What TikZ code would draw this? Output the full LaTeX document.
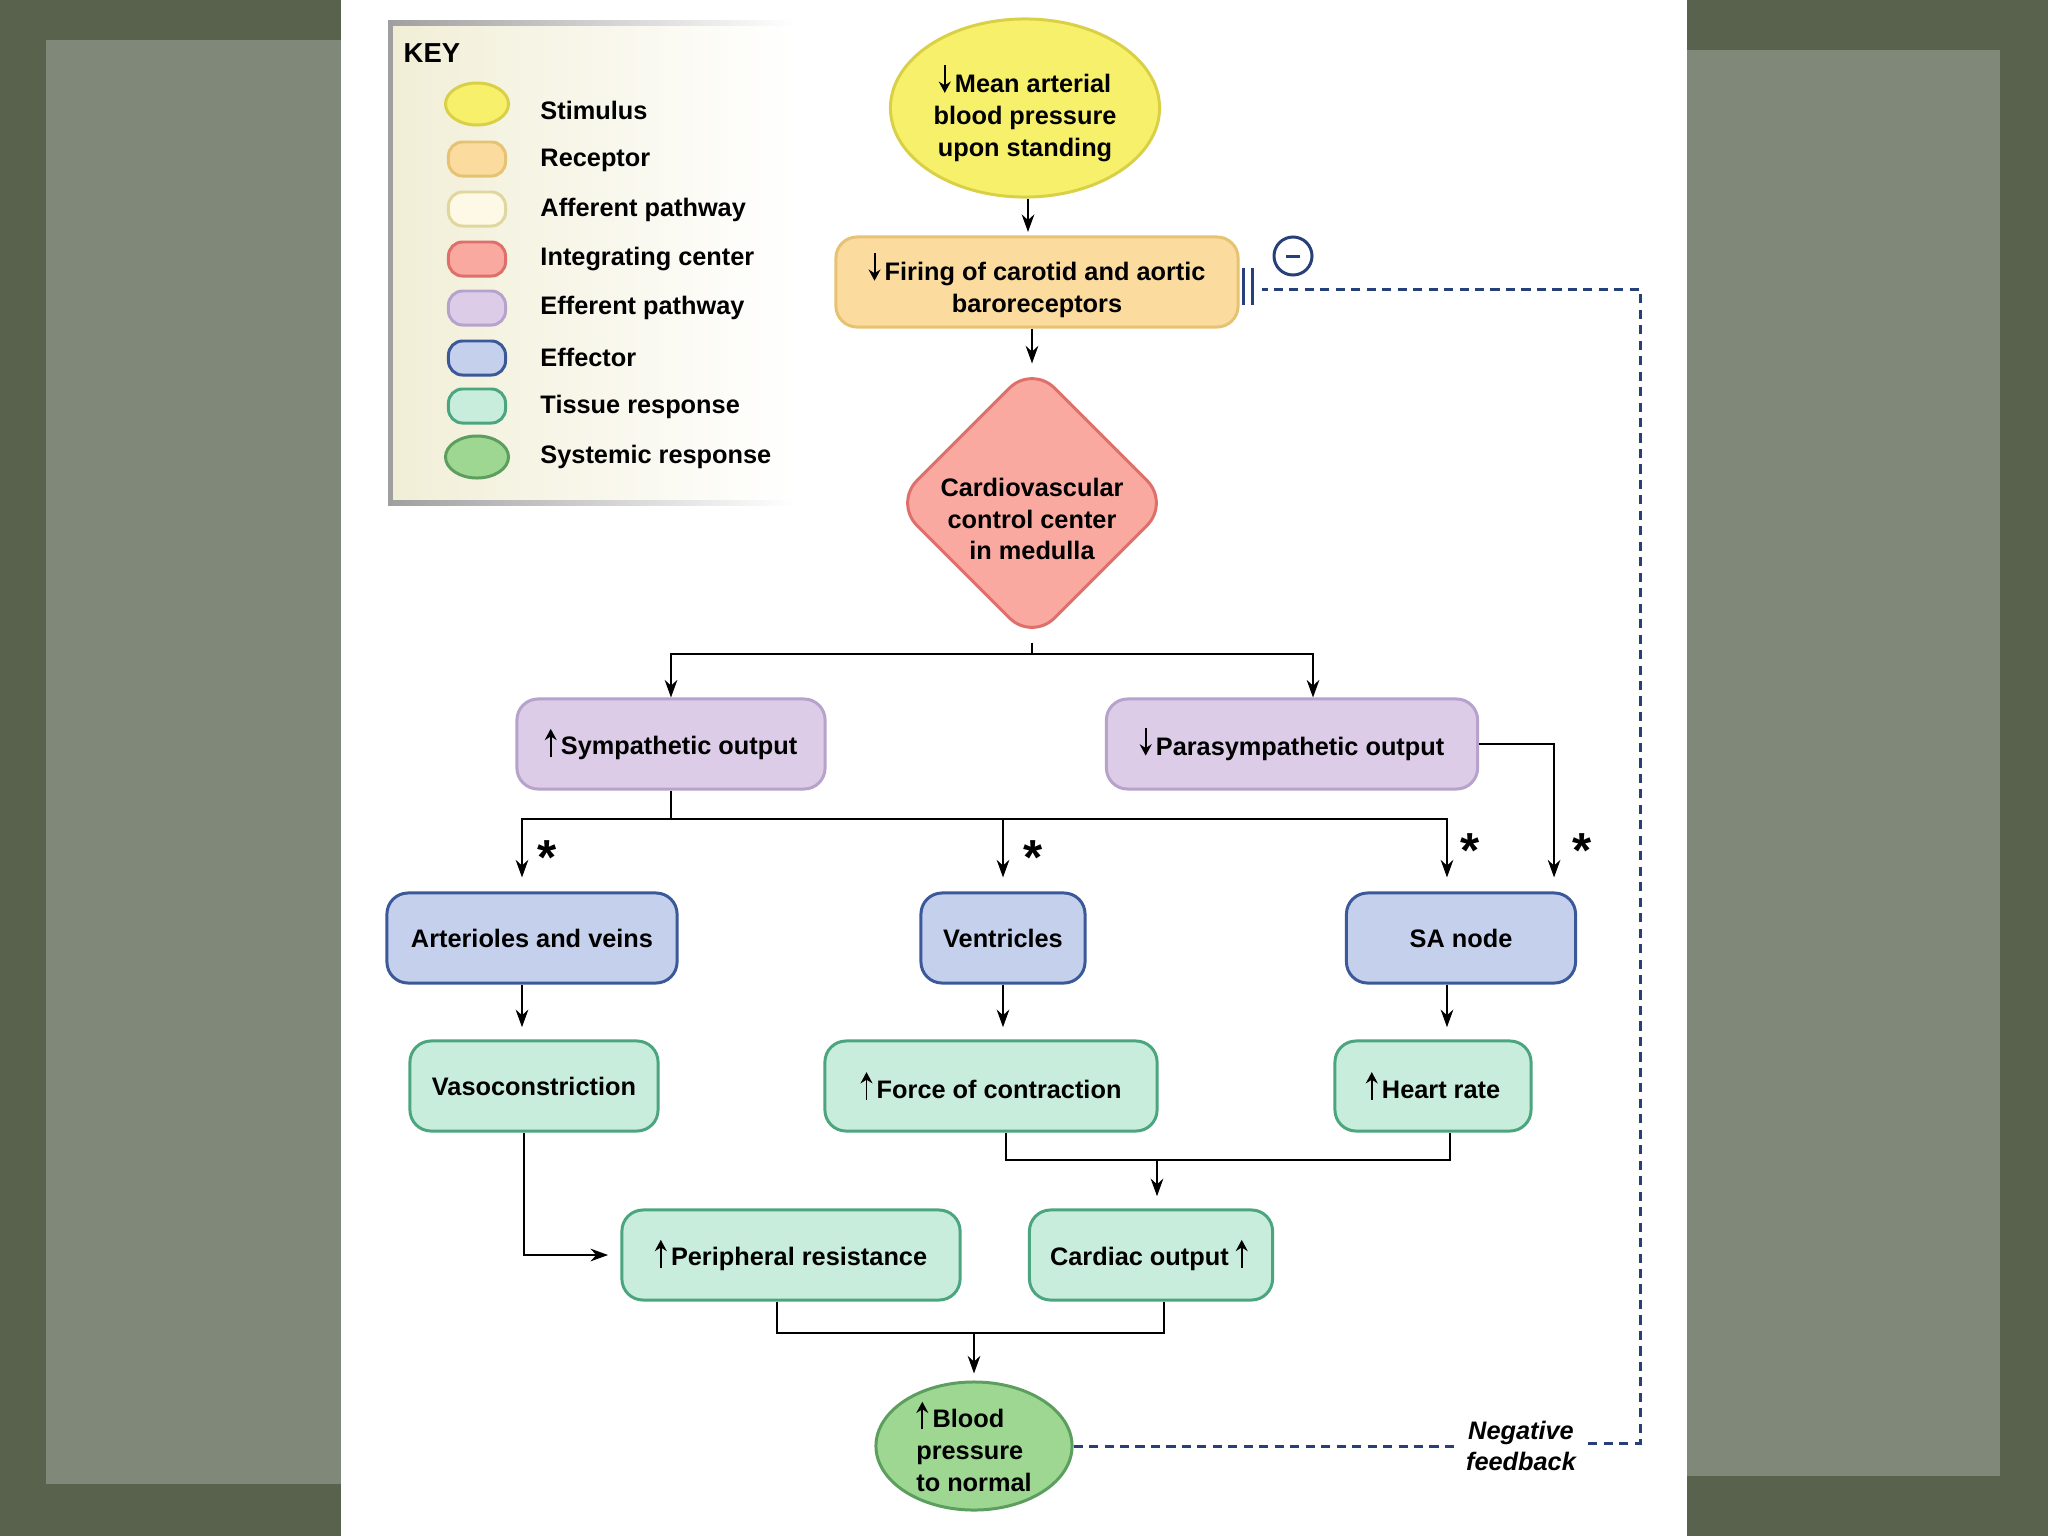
\documentclass[tikz,border=0pt]{standalone}
\usepackage{fontspec}
\setmainfont{Liberation Sans}
\usetikzlibrary{shapes.geometric,arrows.meta}
\definecolor{bgdark}{HTML}{58624C}
\definecolor{bgpaper}{HTML}{80887A}
\definecolor{keycream}{HTML}{F1EED6}
\definecolor{stimfill}{HTML}{F7F06A}
\definecolor{stimdraw}{HTML}{D9D046}
\definecolor{recfill}{HTML}{FBDC9E}
\definecolor{recdraw}{HTML}{E6C273}
\definecolor{afffill}{HTML}{FDF9E6}
\definecolor{affdraw}{HTML}{E0D79F}
\definecolor{ctrfill}{HTML}{F9A99F}
\definecolor{ctrdraw}{HTML}{DE6F6A}
\definecolor{efffill}{HTML}{DCCCE8}
\definecolor{effdraw}{HTML}{B7A2CC}
\definecolor{eftfill}{HTML}{C4D0EC}
\definecolor{eftdraw}{HTML}{3B5899}
\definecolor{tisfill}{HTML}{C9EDDC}
\definecolor{tisdraw}{HTML}{4BA57F}
\definecolor{sysfill}{HTML}{9DD792}
\definecolor{sysdraw}{HTML}{5C9E5E}
\definecolor{fbcol}{HTML}{27407A}
\newcommand{\uparw}{\tikz[baseline=0pt]\draw[black, line width=0.55pt, -{Stealth[length=3.2pt,width=3.4pt]}] (0pt,-0.5pt) -- (0pt,7.4pt);\,}
\newcommand{\dnarw}{\tikz[baseline=0pt]\draw[black, line width=0.55pt, -{Stealth[length=3.2pt,width=3.4pt]}] (0pt,7.8pt) -- (0pt,0pt);\,}
\tikzset{
  base/.style={font=\fontsize{7.2}{9}\selectfont\bfseries, align=center, inner sep=0pt, line width=0.85pt},
  boxnode/.style={base, rounded corners=6pt, minimum height=0.9cm},
  stimnode/.style={base, ellipse, draw=stimdraw, fill=stimfill, minimum width=2.69cm, minimum height=1.78cm},
  recnode/.style={boxnode, draw=recdraw, fill=recfill},
  ctrnode/.style={base, diamond, draw=ctrdraw, fill=ctrfill, rounded corners=9pt, minimum width=2.76cm, minimum height=2.76cm},
  effnode/.style={boxnode, draw=effdraw, fill=efffill},
  eftnode/.style={boxnode, draw=eftdraw, fill=eftfill},
  tisnode/.style={boxnode, draw=tisdraw, fill=tisfill},
  sysnode/.style={base, ellipse, draw=sysdraw, fill=sysfill, minimum width=1.96cm, minimum height=1.28cm},
  keyoval/.style={ellipse, line width=0.85pt, minimum width=0.63cm, minimum height=0.42cm},
  keybox/.style={rounded corners=4pt, line width=0.85pt, minimum width=0.57cm, minimum height=0.34cm},
  keytext/.style={base, anchor=west},
  star/.style={font=\fontsize{14}{14}\selectfont\bfseries, inner sep=0pt},
  link/.style={line width=0.55pt},
  arr/.style={link, -{Stealth[length=5pt,width=3.6pt]}},
  fb/.style={fbcol, line width=0.85pt, dash pattern=on 2.6pt off 1.8pt}
}
\begin{document}
\begin{tikzpicture}[x=0.01cm, y=-0.01cm]
\useasboundingbox (0,0) rectangle (2048,1536);
\fill[bgdark] (0,0) rectangle (2048,1536);
\fill[bgpaper] (46,40) rectangle (341,1484);
\fill[bgpaper] (1687,50) rectangle (2000,1476);
\fill[white] (341,0) rectangle (1687,1536);
% key
\shade[left color=keycream, right color=white] (388,22) rectangle (794,504);
\shade[left color=gray!75, right color=white] (388,20) rectangle (794,25);
\shade[left color=gray!75, right color=white] (388,500) rectangle (794,505);
\fill[gray!75] (388,20) rectangle (393,505);
\path
  (403,53) node[anchor=west, inner sep=0pt, font=\fontsize{7.8}{9}\selectfont\bfseries] (keytitle) {KEY}
  (477,104) node[keyoval, draw=stimdraw, fill=stimfill] (kstim) {}
  (539,110) node[keytext] (kstimt) {Stimulus}
  (477,159) node[keybox, draw=recdraw, fill=recfill] (krec) {}
  (539,160) node[keytext] (krect) {Receptor}
  (477,209) node[keybox, draw=affdraw, fill=afffill] (kaff) {}
  (539,210) node[keytext] (kafft) {Afferent pathway}
  (477,259) node[keybox, draw=ctrdraw, fill=ctrfill] (kctr) {}
  (539,259) node[keytext] (kctrt) {Integrating center}
  (477,308) node[keybox, draw=effdraw, fill=efffill] (keff) {}
  (539,308) node[keytext] (kefft) {Efferent pathway}
  (477,358) node[keybox, draw=eftdraw, fill=eftfill] (keft) {}
  (539,357) node[keytext] (keftt) {Effector}
  (477,406) node[keybox, draw=tisdraw, fill=tisfill] (ktis) {}
  (539,407) node[keytext] (ktist) {Tissue response}
  (477,457) node[keyoval, draw=sysdraw, fill=sysfill] (ksys) {}
  (539,457) node[keytext] (ksyst) {Systemic response};
% reflex
\node[stimnode, label={[base, yshift=-0.05cm]center:{\dnarw Mean arterial\\blood pressure\\upon standing}}] (stim) at (1025,108) {};
\node[recnode, minimum width=4.02cm, label={[base, yshift=-0.03cm]center:{\dnarw Firing of carotid and aortic\\baroreceptors}}] (rec) at (1037,282) {};
\node[ctrnode, label={[base, yshift=-0.16cm]center:{Cardiovascular\\control center\\in medulla}}] (ctr) at (1032,503) {};
\node[effnode, minimum width=3.08cm] (symp) at (671,744) {\uparw Sympathetic output};
\node[effnode, minimum width=3.71cm] (para) at (1292,744) {\dnarw Parasympathetic output};
\node[eftnode, minimum width=2.90cm] (art) at (532,938) {Arterioles and veins};
\node[eftnode, minimum width=1.64cm] (vent) at (1003,938) {Ventricles};
\node[eftnode, minimum width=2.29cm] (sa) at (1461,938) {SA node};
\node[tisnode, minimum width=2.48cm] (vaso) at (534,1086) {Vasoconstriction};
\node[tisnode, minimum width=3.32cm] (force) at (991,1086) {\uparw Force of contraction};
\node[tisnode, minimum width=1.96cm] (hr) at (1433,1086) {\uparw Heart rate};
\node[tisnode, minimum width=3.38cm] (per) at (791,1255) {\uparw Peripheral resistance};
\node[tisnode, minimum width=2.43cm] (card) at (1151,1255) {Cardiac output \uparw};
\node[sysnode, align=left] (bp) at (974,1446) {\uparw Blood\\pressure\\to normal};
\path
  (547,858) node[star] (s1) {*}
  (1033,858) node[star] (s2) {*}
  (1470,851) node[star] (s3) {*}
  (1582,851) node[star] (s4) {*};
\coordinate (cjoin) at (1032,654);
\coordinate (ejoin) at (671,819);
\coordinate (tjoin) at (1157,1160);
\coordinate (sjoin) at (974,1333);
\draw[arr, shorten >=1pt] ([xshift=0.03cm]stim.south) -- ([xshift=0.03cm]stim.south |- rec.north);
\draw[arr] (rec.south -| ctr.north) -- (ctr.north);
\draw[link] (ctr.south) -- (cjoin);
\draw[arr] (cjoin) -| (symp.north);
\draw[arr] (cjoin) -| ([xshift=0.21cm]para.north);
\draw[link] (symp.south) -- (ejoin);
\draw[arr, shorten >=4pt] (ejoin) -| ([xshift=-0.1cm]art.north);
\draw[arr, shorten >=4pt] (ejoin) -| (vent.north);
\draw[arr, shorten >=4pt] (ejoin) -| ([xshift=-0.14cm]sa.north);
\draw[arr, shorten >=4pt] (para.east) -| ([xshift=0.93cm]sa.north);
\draw[arr, shorten >=3.5pt] ([xshift=-0.1cm]art.south) -- ([xshift=-0.1cm]art.south |- vaso.north);
\draw[arr, shorten >=3.5pt] (vent.south) -- (vent.south |- force.north);
\draw[arr, shorten >=3.5pt] ([xshift=-0.14cm]sa.south) -- ([xshift=-0.14cm]sa.south |- hr.north);
\draw[arr, shorten >=3.5pt] ([xshift=-0.1cm]vaso.south) |- (per.west);
\draw[link] ([xshift=0.15cm]force.south) |- (tjoin) -| ([xshift=0.17cm]hr.south);
\draw[arr, shorten >=3.5pt] (tjoin) -- (tjoin |- card.north);
\draw[link] ([xshift=-0.14cm]per.south) |- (sjoin) -| ([xshift=0.13cm]card.south);
\draw[arr, shorten >=2pt] (sjoin) -- (bp.north);
% negative feedback
\node[font=\fontsize{7.2}{9}\selectfont\bfseries\itshape, align=center, minimum width=1.33cm, inner sep=0pt] (fbtxt) at (1521,1446) {Negative\\feedback};
\coordinate (fbturn) at (1640,1443);
\coordinate (fbend) at (1262,289);
\draw[fb] (bp.east) -- (bp.east -| fbtxt.west);
\draw[fb] (fbtxt.east |- fbturn) -- (fbturn) |- (fbend);
\draw[fbcol, line width=0.85pt] (1243,268) -- (1243,305) (1252,268) -- (1252,305);
\node[circle, draw=fbcol, line width=0.85pt, minimum size=0.38cm, inner sep=0pt] (minus) at (1293,256) {};
\draw[fbcol, line width=0.85pt] ([xshift=-0.07cm]minus.center) -- ([xshift=0.07cm]minus.center);
\end{tikzpicture}
\end{document}
